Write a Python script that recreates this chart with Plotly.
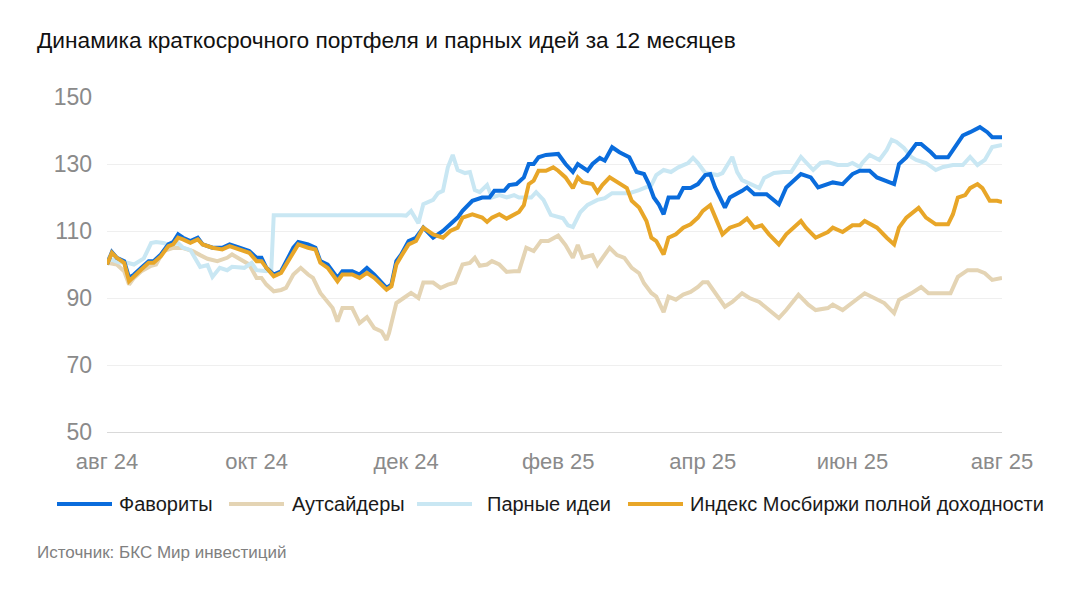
import pandas as pd
import plotly.graph_objects as go

# ── Data (index, start = 100) ─────────────────────────────
START = pd.Timestamp("2024-08-01")

fav_days = [0, 2, 4, 7, 9, 11, 14, 17, 19, 22, 25, 27, 29, 31, 34, 37, 39, 43, 47, 50,
            54, 58, 61, 63, 65, 68, 71, 73, 76, 78, 82, 85, 87, 90, 92, 94, 96, 100, 103, 106,
            109, 111, 114, 116, 118, 120, 123, 126, 129, 133, 137, 140, 143, 145, 149, 153, 156, 158, 162, 164,
            167, 170, 172, 174, 176, 179, 184, 187, 190, 192, 196, 198, 201, 203, 206, 209, 213, 216, 219, 221,
            223, 225, 227, 229, 233, 235, 238, 241, 244, 246, 248, 252, 254, 259, 261, 264, 269, 274, 277, 283,
            287, 290, 294, 296, 300, 304, 307, 311, 314, 318, 321, 323, 326, 330, 332, 336, 338, 343, 347, 349,
            352, 356, 359, 361, 365]
fav_vals = [100, 103.7, 102, 101, 96, 97, 99, 101, 101, 103, 106, 106.7, 109, 108, 107, 108, 106, 105, 105, 106,
            105, 104, 102, 102, 99, 97, 98, 101, 105, 106.7, 106, 105, 101, 100, 98, 96, 98, 98, 97, 99,
            97, 95.5, 93, 94, 101, 103, 107, 108, 111, 108, 110, 112, 114, 116, 119, 120, 120, 122, 122, 123.7,
            124, 126, 130, 130, 132, 132.7, 133, 130, 127.6, 130, 128, 130, 131.8, 131, 135, 133.5, 132, 127.6, 127, 124,
            120, 118, 115, 120, 120, 122.8, 122.8, 124, 126.7, 127, 123, 117, 120, 122, 123, 121, 121, 118, 123, 127,
            126, 123, 124, 124.5, 124, 127, 128, 128, 126, 125, 124, 130, 132, 136, 136, 133.5, 132, 132, 136, 138.5,
            139.5, 141, 139.5, 138, 138]

out_days = [0, 4, 7, 9, 11, 14, 18, 20, 23, 27, 31, 35, 38, 41, 45, 49, 51, 54, 58, 61,
            63, 65, 68, 71, 73, 76, 79, 82, 84, 87, 90, 92, 94, 96, 100, 103, 106, 109, 112, 114,
            115, 118, 121, 124, 127, 129, 133, 136, 139, 142, 145, 148, 150, 152, 155, 157, 160, 163, 166, 168,
            171, 174, 177, 180, 184, 187, 190, 192, 194, 198, 200, 202, 205, 208, 211, 214, 217, 219, 222, 224,
            227, 229, 232, 235, 238, 241, 243, 245, 248, 252, 255, 259, 262, 266, 270, 274, 277, 282, 286, 289,
            294, 296, 300, 304, 307, 309, 312, 317, 321, 323, 328, 332, 335, 340, 344, 347, 351, 355, 358, 361,
            365]
out_vals = [100.5, 100, 98, 94, 96, 98, 99.6, 100, 104, 105, 104.9, 104, 102.8, 101.7, 101, 102, 103, 101.7, 100, 96,
            96, 94, 92, 92.4, 93, 97, 99, 97, 96, 91.5, 89, 87, 83, 87, 87, 82.5, 84.3, 81, 80, 77.5,
            79.5, 88.5, 90, 91.5, 90, 94.6, 94.6, 93, 94, 94.6, 100, 100.5, 102, 99.6, 100, 101, 100, 97.8, 98, 98,
            105, 104, 107, 107, 108.6, 105.8, 102, 105.8, 102, 102.8, 99.8, 101.8, 105, 102.8, 102, 99, 97.4, 94.4, 91.5, 90.4,
            85.8, 90.4, 89.5, 91, 91.8, 93.3, 94.7, 94.7, 91.4, 87.4, 88.8, 91.4, 90, 88.8, 86.4, 84, 86.4, 91, 88, 86.4,
            87, 88, 86.4, 88.8, 90.3, 91.4, 90.3, 88.5, 85.5, 89.4, 91.4, 93.3, 91.4, 91.4, 91.4, 96.3, 98.3, 98.3, 97.4, 95.4,
            96]

pair_days = [0, 5, 8, 11, 15, 18, 20, 23, 26, 29, 31, 34, 38, 41, 43, 46, 49, 51, 56, 59,
             61, 65, 67, 68, 120, 122, 124, 126, 127, 129, 131, 133, 135, 137, 139, 141, 143, 146, 148, 150,
             152, 155, 157, 160, 163, 166, 168, 173, 175, 178, 181, 184, 186, 188, 190, 193, 196, 200, 203, 206,
             209, 213, 217, 222, 224, 227, 230, 233, 237, 239, 241, 244, 249, 251, 255, 257, 259, 262, 266, 268,
             272, 276, 279, 283, 286, 288, 291, 294, 298, 302, 304, 307, 308, 311, 315, 318, 320, 322, 325, 328,
             330, 334, 338, 341, 345, 349, 352, 355, 358, 361, 365]
pair_vals = [102, 100.6, 100.6, 100, 101.8, 106.4, 106.7, 106.4, 105.8, 106.4, 105, 104.3, 99.3, 99.8, 96.3, 99, 98.3, 99.3, 99, 100.5,
             98.3, 98, 98.5, 114.7, 114.7, 114.6, 116, 113.8, 112.3, 118, 118.7, 119.3, 121.3, 122, 129, 132.7, 128.2, 127.3, 127.6, 122.2,
             121.6, 123.7, 120, 120.7, 120, 120.7, 120, 120, 121.6, 119.3, 114.8, 114.2, 113.8, 111.7, 111.2, 115.6, 117.8, 119.3, 119.8, 121.3,
             121.3, 121.3, 122.2, 123.7, 126.7, 128.2, 127.6, 129, 130.3, 131.8, 130.3, 127.3, 126.7, 127.3, 132.1, 127.6, 125.2, 124.3, 122.8, 125.8,
             127.3, 127.6, 127.6, 132.1, 129.7, 128.2, 130.3, 130.6, 129.7, 129.7, 130.3, 129.1, 130.3, 132.7, 131.2, 134.2, 137.2, 136.6, 134.8, 132.1,
             131.2, 130.3, 128.2, 129.1, 129.7, 129.7, 132.1, 129.7, 131.2, 135.1, 135.7]

idx_days = [0, 2, 4, 7, 9, 11, 14, 17, 19, 22, 25, 27, 29, 31, 34, 37, 39, 43, 47, 50,
            54, 58, 61, 63, 65, 68, 71, 73, 76, 78, 82, 85, 87, 90, 92, 94, 96, 100, 103, 106,
            109, 111, 114, 116, 118, 120, 123, 126, 129, 133, 137, 140, 143, 145, 149, 153, 155, 157, 160, 163,
            166, 168, 170, 172, 174, 176, 179, 182, 184, 187, 190, 192, 194, 198, 200, 202, 205, 208, 212, 214,
            217, 220, 222, 224, 227, 229, 232, 235, 238, 241, 243, 246, 248, 251, 254, 258, 261, 264, 267, 270,
            274, 277, 283, 285, 289, 294, 296, 300, 304, 307, 309, 314, 318, 321, 323, 326, 331, 334, 338, 343,
            345, 347, 350, 352, 355, 357, 360, 363, 365]
idx_vals = [100, 103.5, 102, 100.5, 95, 96.5, 98.5, 100.5, 100.5, 102.5, 105.5, 106, 108, 107.5, 106.5, 107.5, 106, 105, 104.5, 105.5,
            104.5, 103.5, 101, 101, 99, 96.5, 97.5, 100, 104, 106, 105, 104.5, 100.5, 99, 97, 95, 97, 97, 96, 97.5,
            96, 94.5, 92.5, 93.5, 100, 102.5, 106, 107, 111, 109, 108, 110, 111, 114, 115, 114, 112.7, 114, 115, 113.7,
            115, 115.7, 117.7, 124, 125, 128, 128, 129, 128, 126, 122.8, 126, 124.6, 124, 121.6, 123.7, 126, 124.6, 122.8, 119,
            117, 113, 108, 107, 103, 108, 109, 111, 112, 114, 116, 117.7, 114, 109, 111, 112, 113.7, 111, 111.7, 109,
            106, 109, 113, 111, 108, 109.7, 111, 109.7, 111.7, 111.7, 113, 111, 108, 106, 111, 114, 116.9, 114, 112, 112,
            115, 120, 120.7, 122.8, 124, 122.8, 119, 119, 118.6]

names = ["Фавориты", "Аутсайдеры", "Парные идеи", "Индекс Мосбиржи полной доходности"]
colors = ["#0a6cdc", "#e4d4b4", "#c9e7f3", "#e8a628"]

tick_dates = ["2024-08-01", "2024-10-01", "2024-12-01", "2025-02-01", "2025-04-01", "2025-06-01", "2025-08-01"]
tick_text = ["авг 24", "окт 24", "дек 24", "фев 25", "апр 25", "июн 25", "авг 25"]
y_ticks = [50, 70, 90, 110, 130, 150]

series = {
    names[0]: (fav_days, fav_vals),
    names[1]: (out_days, out_vals),
    names[2]: (pair_days, pair_vals),
    names[3]: (idx_days, idx_vals),
}

# ── Layout helpers ────────────────────────────────────────
# the page body has an 8px margin, so the figure is drawn 8px in from the window edge
OFF = 8
W, H = 1070 - OFF, 592 - OFF
ML, MR, MT, MB = 107 - OFF, 68, 97 - OFF, 160
PW, PH = W - ML - MR, H - MT - MB
FONT = "Liberation Sans, Arial, sans-serif"


def px_x(px):
    return (px - OFF - ML) / PW


def px_y(py):
    return (H - MB - (py - OFF)) / PH


fig = go.Figure()

# draw order: outsiders, pairs, favourites, index on top
for name in [names[1], names[2], names[0], names[3]]:
    days, vals = series[name]
    dates = START + pd.to_timedelta(days, unit="D")
    fig.add_trace(go.Scatter(
        x=dates, y=vals, mode="lines", name=name,
        line=dict(color=colors[names.index(name)], width=4),
        showlegend=False, hoverinfo="skip",
    ))

# custom legend (long line samples like the original)
legend_pos = [(57, 117), (229, 290), (417, 485), (628, 688)]
for name, (lx, tx) in zip(names, legend_pos):
    fig.add_shape(type="line", xref="paper", yref="paper",
                  x0=px_x(lx), x1=px_x(lx + 55), y0=px_y(504), y1=px_y(504),
                  line=dict(color=colors[names.index(name)], width=4))
    fig.add_annotation(text=name, xref="paper", yref="paper", x=px_x(tx), y=px_y(504),
                       xanchor="left", yanchor="middle", showarrow=False,
                       font=dict(size=20, color="#1a1a1a", family=FONT))

fig.add_annotation(text="Динамика краткосрочного портфеля и парных идей за 12 месяцев",
                   xref="paper", yref="paper", x=px_x(35), y=px_y(40),
                   xanchor="left", yanchor="middle", showarrow=False,
                   font=dict(size=22.7, color="#111111", family=FONT))
fig.add_annotation(text="Источник: БКС Мир инвестиций",
                   xref="paper", yref="paper", x=px_x(35), y=px_y(552),
                   xanchor="left", yanchor="middle", showarrow=False,
                   font=dict(size=17, color="#808080", family=FONT))

fig.update_xaxes(
    type="date", range=[tick_dates[0], tick_dates[-1]],
    tickvals=tick_dates, ticktext=tick_text,
    showgrid=False, showline=True, linecolor="#d9d9d9", linewidth=1,
    ticks="", ticklabelstandoff=10,
    tickfont=dict(size=22, color="#8a8a8a", family=FONT),
)
fig.update_yaxes(
    range=[50, 150], tickvals=y_ticks,
    showgrid=True, gridcolor="#efefef", gridwidth=1, zeroline=False,
    ticks="", ticklabelstandoff=14,
    tickfont=dict(size=23, color="#8a8a8a", family=FONT),
)
fig.update_layout(
    width=W, height=H,
    margin=dict(l=ML, r=MR, t=MT, b=MB),
    plot_bgcolor="white", paper_bgcolor="white",
    showlegend=False,
)

fig.write_html("out.html")
